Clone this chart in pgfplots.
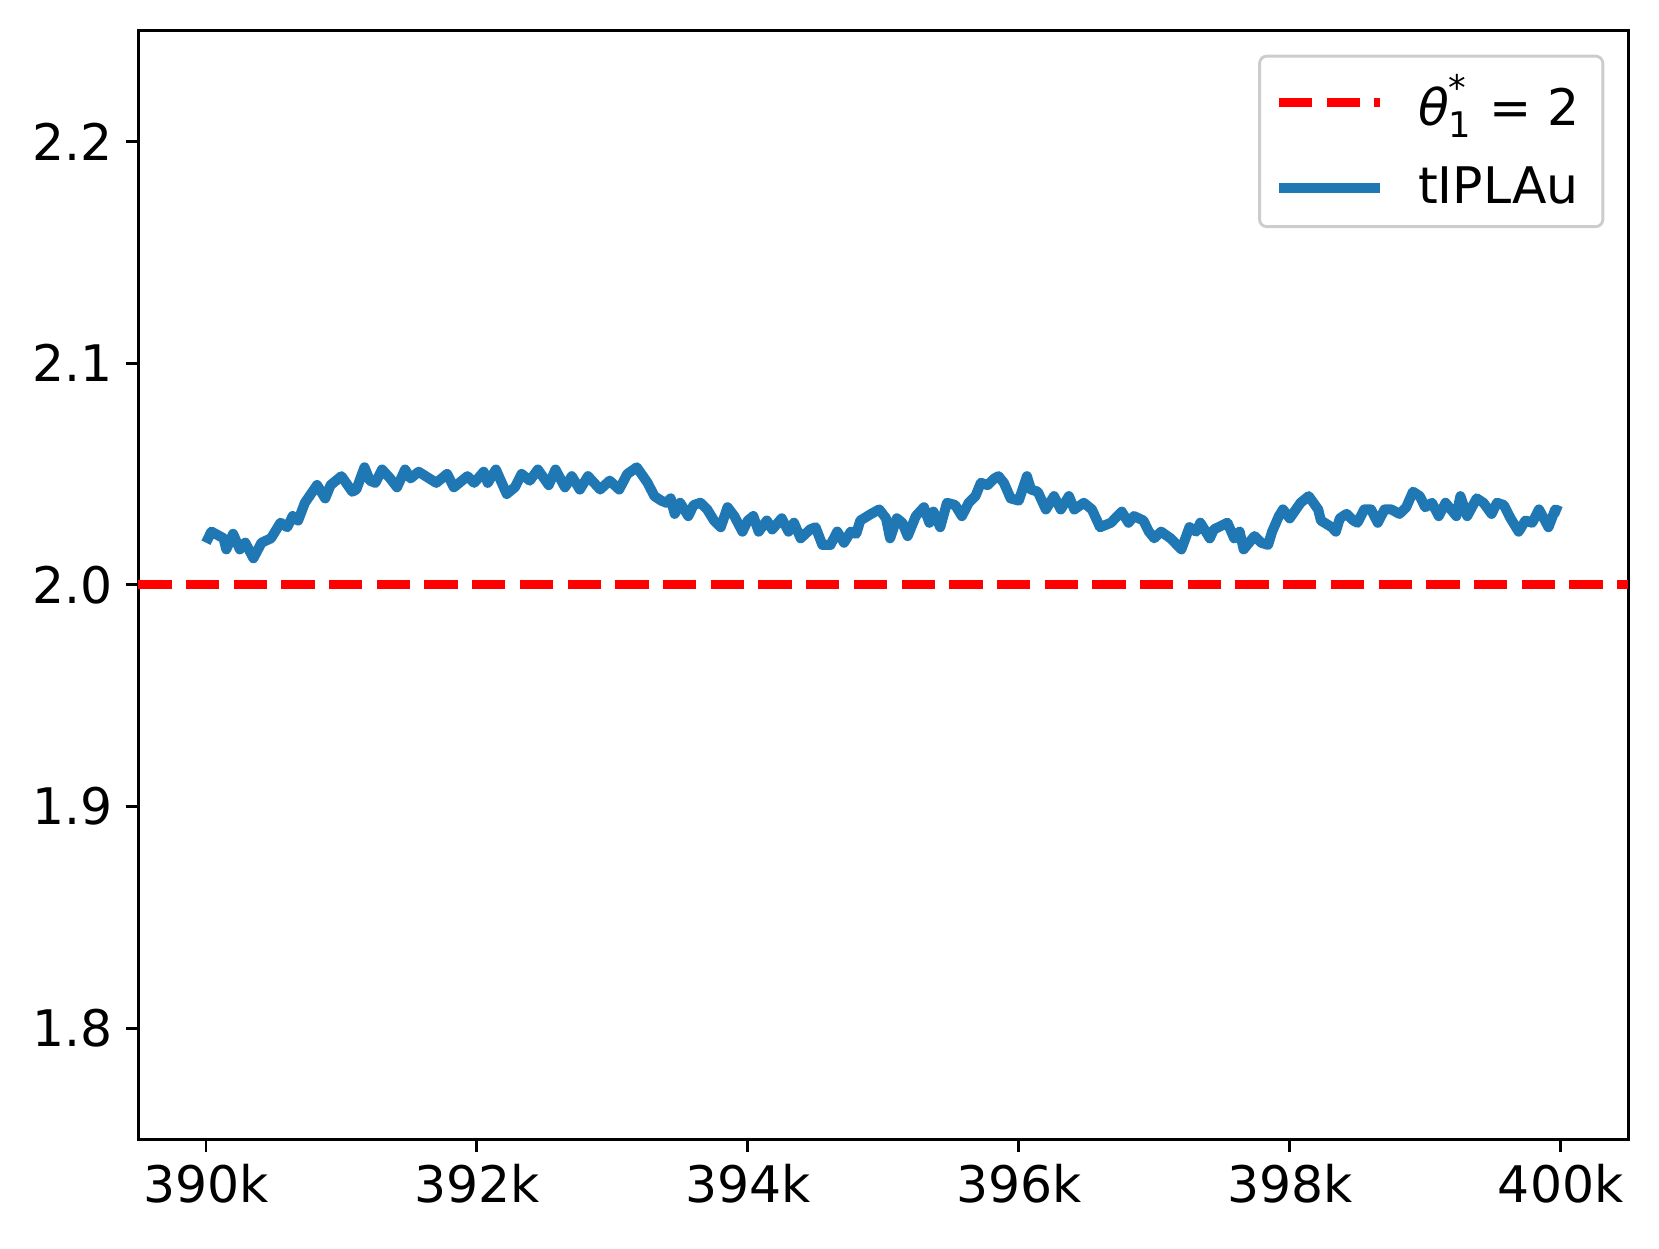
\documentclass[border=0pt]{standalone}
\usepackage{amsmath}
\usepackage{fontspec}
\setmainfont{DejaVu Sans}
\usepackage{pgfplots}
\usepackage{pgfplotstable}
\pgfplotsset{compat=1.18}
\definecolor{mplblue}{HTML}{1F77B4}

% running estimate, x in thousands of iterations
\pgfplotstableread{
x y
390.00 2.019
390.04 2.024
390.13 2.021
390.15 2.016
390.20 2.023
390.25 2.016
390.29 2.019
390.35 2.012
390.41 2.019
390.48 2.021
390.55 2.028
390.60 2.026
390.64 2.031
390.68 2.029
390.73 2.037
390.82 2.045
390.88 2.039
390.92 2.045
391.00 2.049
391.08 2.042
391.11 2.043
391.17 2.053
391.21 2.047
391.25 2.046
391.30 2.052
391.36 2.048
391.41 2.044
391.47 2.052
391.51 2.048
391.57 2.051
391.70 2.046
391.78 2.050
391.83 2.044
391.93 2.049
391.98 2.046
392.05 2.051
392.08 2.046
392.14 2.052
392.22 2.041
392.28 2.044
392.33 2.050
392.39 2.047
392.45 2.052
392.53 2.045
392.58 2.052
392.65 2.044
392.70 2.049
392.76 2.043
392.82 2.049
392.91 2.043
392.98 2.047
393.05 2.043
393.11 2.050
393.18 2.053
393.26 2.046
393.31 2.040
393.36 2.038
393.40 2.037
393.43 2.039
393.46 2.032
393.50 2.037
393.56 2.031
393.60 2.036
393.65 2.037
393.70 2.034
393.75 2.029
393.80 2.026
393.85 2.035
393.90 2.031
393.96 2.024
394.00 2.029
394.04 2.031
394.08 2.024
394.14 2.029
394.18 2.025
394.25 2.030
394.30 2.024
394.34 2.028
394.39 2.021
394.46 2.025
394.50 2.026
394.55 2.018
394.61 2.018
394.66 2.024
394.71 2.019
394.76 2.024
394.80 2.023
394.83 2.029
394.91 2.032
394.97 2.034
395.02 2.030
395.05 2.021
395.10 2.030
395.14 2.028
395.18 2.022
395.24 2.031
395.30 2.035
395.34 2.028
395.37 2.033
395.42 2.026
395.47 2.037
395.53 2.036
395.58 2.031
395.63 2.037
395.68 2.040
395.72 2.046
395.77 2.045
395.82 2.048
395.85 2.049
395.89 2.046
395.94 2.039
396.00 2.038
396.06 2.049
396.09 2.043
396.14 2.042
396.20 2.034
396.26 2.040
396.31 2.034
396.37 2.040
396.41 2.034
396.48 2.037
396.54 2.034
396.60 2.026
396.68 2.028
396.76 2.033
396.81 2.028
396.85 2.031
396.92 2.029
396.96 2.024
397.00 2.021
397.05 2.024
397.12 2.021
397.20 2.016
397.26 2.026
397.31 2.024
397.34 2.028
397.41 2.021
397.44 2.025
397.54 2.028
397.59 2.021
397.63 2.024
397.66 2.016
397.74 2.022
397.79 2.019
397.84 2.018
397.87 2.024
397.92 2.031
397.95 2.034
398.00 2.030
398.08 2.037
398.14 2.040
398.21 2.034
398.23 2.029
398.31 2.026
398.34 2.024
398.37 2.030
398.42 2.032
398.47 2.029
398.50 2.028
398.55 2.034
398.60 2.034
398.65 2.028
398.70 2.034
398.75 2.034
398.81 2.032
398.86 2.035
398.91 2.042
398.96 2.040
399.00 2.035
399.05 2.037
399.10 2.031
399.15 2.037
399.23 2.031
399.26 2.040
399.31 2.031
399.38 2.039
399.43 2.037
399.49 2.032
399.53 2.037
399.58 2.036
399.63 2.030
399.69 2.024
399.74 2.029
399.79 2.028
399.84 2.034
399.91 2.026
399.96 2.034
400.00 2.033
}\estimate

\begin{document}
\begin{tikzpicture}
\begin{axis}[
    scale only axis,
    width=413.9pt, height=307.9pt,
    xmin=389.5, xmax=400.5,
    ymin=1.75, ymax=2.25,
    axis line style={line width=0.8pt},
    xtick={390,392,...,400},
    xticklabels={390k,392k,394k,396k,398k,400k},
    ytick={1.8,1.9,2.0,2.1,2.2},
    yticklabel style={/pgf/number format/.cd,fixed,fixed zerofill,precision=1},
    /pgf/number format/assume math mode=true,
    tick label style={font=\fontsize{14}{16}\selectfont},
    tick align=outside,
    major tick length=3.5pt,
    every tick/.style={black,line width=0.8pt},
    xtick pos=bottom, ytick pos=left,
    legend cell align=left,
    legend image code/.code={\path (-2.5pt,0pt); \draw[#1] (0pt,0pt) -- (28pt,0pt);},
    legend style={at={(1,1)}, anchor=north east, xshift=-6.7pt, yshift=-6.7pt,
        draw=white!80!black, rounded corners=2pt, line width=0.8pt,
        font=\fontsize{14}{16}\selectfont,
        inner xsep=1.5pt, inner ysep=3pt, row sep=6pt, column sep=4.2pt,
        nodes={inner xsep=5pt, inner ysep=2pt}},
]
\addplot[red, line width=2.5pt, dash pattern=on 9.25pt off 4pt] coordinates {(389.5,2.0) (400.5,2.0)};
\addlegendentry{$\text{\textit{θ}}_{\text{1}}^{\text{*}}$ = 2}
\addplot[mplblue, line width=2.8pt, line join=round] table[x=x,y=y] {\estimate};
\addlegendentry{tIPLAu}
\coordinate (bl) at (rel axis cs:0,0);
\coordinate (tr) at (rel axis cs:1,1);
\end{axis}
\useasboundingbox ([shift={(-38.4pt,-30.3pt)}]bl) rectangle ([shift={(8.5pt,8.5pt)}]tr);
\end{tikzpicture}
\end{document}
